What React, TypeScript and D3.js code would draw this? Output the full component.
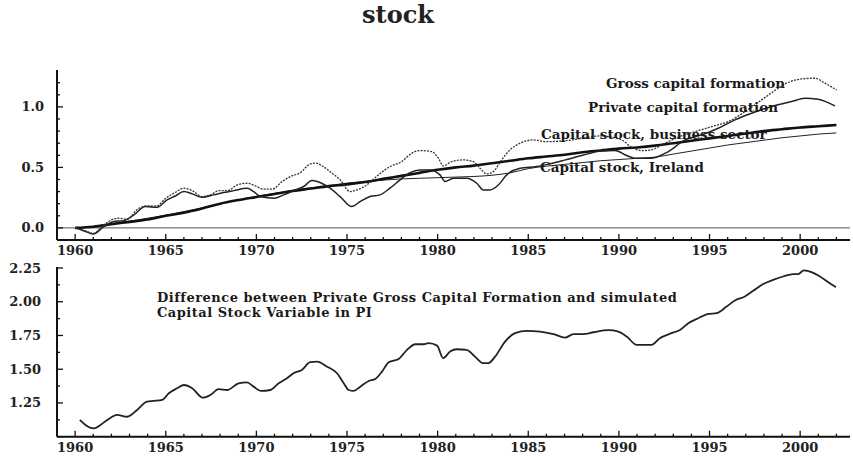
import React from "react";
import * as d3 from "d3";

const xTickYears = [1960, 1965, 1970, 1975, 1980, 1985, 1990, 1995, 2000];
const topTickLabels = [0.0, 0.5, 1.0];
const bottomTickLabels = [1.25, 1.5, 1.75, 2.0, 2.25];

const grossCapitalFormation: [number, number][] = [
  [1960.0, 0], [1960.5, -0.02], [1961.0, -0.045], [1961.6, 0.025], [1962.0, 0.066], [1962.4, 0.08],
  [1962.9, 0.072], [1963.4, 0.149], [1964.0, 0.182], [1964.5, 0.182], [1965.0, 0.245], [1965.45, 0.287],
  [1966.0, 0.328], [1966.46, 0.308], [1967.0, 0.259], [1967.47, 0.273], [1967.93, 0.308], [1968.4, 0.308],
  [1968.94, 0.355], [1969.5, 0.369], [1969.95, 0.347], [1970.4, 0.32], [1970.87, 0.32], [1971.42, 0.383],
  [1971.88, 0.424], [1972.43, 0.457], [1972.98, 0.529], [1973.3, 0.535], [1973.6, 0.515], [1974.06, 0.465],
  [1974.62, 0.397], [1975.17, 0.3], [1975.54, 0.314], [1976.09, 0.355], [1976.73, 0.438], [1977.38, 0.507],
  [1978.02, 0.548], [1978.57, 0.617], [1979.03, 0.639], [1979.67, 0.631], [1980.04, 0.576], [1980.31, 0.512],
  [1980.77, 0.548], [1981.42, 0.562], [1981.97, 0.548], [1982.34, 0.493], [1982.71, 0.446], [1983.07, 0.465],
  [1983.53, 0.562], [1983.99, 0.645], [1984.55, 0.7], [1985.28, 0.727], [1986.02, 0.713], [1987.0, 0.72],
  [1988.0, 0.74], [1989.0, 0.76], [1989.6, 0.75], [1990.16, 0.727], [1990.7, 0.667], [1991.26, 0.639],
  [1991.8, 0.645], [1992.36, 0.686], [1993.28, 0.75], [1994.2, 0.796], [1995.12, 0.837], [1996.04, 0.879],
  [1996.96, 0.961], [1997.88, 1.058], [1998.6, 1.135], [1999.25, 1.196], [2000.08, 1.231], [2000.82, 1.237],
  [2001.37, 1.196], [2002.01, 1.14],
];

const privateCapitalFormation: [number, number][] = [
  [1960.0, 0], [1960.5, -0.025], [1961.0, -0.05], [1961.58, 0.011], [1962.13, 0.052], [1962.68, 0.06],
  [1963.24, 0.107], [1963.88, 0.176], [1964.52, 0.17], [1965.07, 0.231], [1965.53, 0.264], [1966.0, 0.3],
  [1966.46, 0.281], [1967.0, 0.253], [1967.65, 0.273], [1968.2, 0.292], [1968.75, 0.308], [1969.49, 0.328],
  [1969.85, 0.3], [1970.22, 0.259], [1970.96, 0.245], [1971.51, 0.273], [1972.06, 0.308], [1972.61, 0.342],
  [1973.07, 0.391], [1973.35, 0.383], [1973.6, 0.369], [1974.06, 0.328], [1974.62, 0.259], [1975.26, 0.176],
  [1975.72, 0.217], [1976.27, 0.259], [1976.82, 0.273], [1977.37, 0.328], [1977.93, 0.397], [1978.48, 0.457],
  [1979.03, 0.479], [1979.58, 0.479], [1980.13, 0.438], [1980.41, 0.383], [1980.87, 0.41], [1981.6, 0.41],
  [1982.16, 0.369], [1982.52, 0.314], [1982.89, 0.314], [1983.35, 0.355], [1983.81, 0.438], [1984.55, 0.493],
  [1985.47, 0.507], [1986.2, 0.53], [1987.0, 0.56], [1988.0, 0.6], [1989.0, 0.635], [1989.8, 0.64],
  [1990.4, 0.6], [1990.9, 0.576], [1991.8, 0.576], [1992.73, 0.631], [1993.65, 0.727], [1994.57, 0.769],
  [1995.48, 0.824], [1996.4, 0.893], [1997.32, 0.948], [1998.43, 1.003], [1999.53, 1.044], [2000.26, 1.072],
  [2000.99, 1.063], [2001.92, 1.008],
];

const capitalStockBusiness: [number, number][] = [
  [1960, 0], [1961, 0.01], [1962, 0.03], [1963, 0.05], [1964, 0.07], [1965, 0.1], [1966, 0.125],
  [1967, 0.16], [1968, 0.2], [1969, 0.23], [1970, 0.255], [1971, 0.28], [1972, 0.305], [1973, 0.325],
  [1974, 0.345], [1975, 0.36], [1976, 0.38], [1977, 0.405], [1978, 0.43], [1979, 0.455], [1980, 0.48],
  [1981, 0.5], [1982, 0.515], [1983, 0.535], [1984, 0.555], [1985, 0.575], [1986, 0.59], [1987, 0.605],
  [1988, 0.625], [1989, 0.64], [1990, 0.655], [1991, 0.665], [1992, 0.68], [1993, 0.7], [1994, 0.72],
  [1995, 0.74], [1996, 0.76], [1997, 0.78], [1998, 0.8], [1999, 0.815], [2000, 0.83], [2001, 0.84], [2002, 0.85],
];

const capitalStockIreland: [number, number][] = [
  [1960, 0], [1961, 0.01], [1962, 0.035], [1963, 0.055], [1964, 0.08], [1965, 0.105], [1966, 0.135],
  [1967, 0.165], [1968, 0.2], [1969, 0.23], [1970, 0.26], [1971, 0.285], [1972, 0.31], [1973, 0.33],
  [1974, 0.35], [1975, 0.37], [1976, 0.385], [1977, 0.395], [1978, 0.405], [1979, 0.41], [1980, 0.415],
  [1981, 0.42], [1982, 0.425], [1983, 0.435], [1984, 0.455], [1985, 0.49], [1986, 0.51], [1987, 0.525],
  [1988, 0.54], [1989, 0.555], [1990, 0.565], [1991, 0.575], [1992, 0.585], [1993, 0.61], [1994, 0.635],
  [1995, 0.66], [1996, 0.685], [1997, 0.705], [1998, 0.725], [1999, 0.745], [2000, 0.76], [2001, 0.775], [2002, 0.785],
];

const differenceSeries: [number, number][] = [
  [1960.26, 1.124], [1960.57, 1.087], [1961.03, 1.062], [1961.4, 1.087], [1961.77, 1.124], [1962.32, 1.161],
  [1962.87, 1.148], [1963.42, 1.198], [1963.97, 1.26], [1964.34, 1.265], [1964.8, 1.272], [1965.17, 1.322],
  [1965.63, 1.359], [1966.0, 1.383], [1966.46, 1.359], [1967.04, 1.289], [1967.46, 1.309], [1967.92, 1.352],
  [1968.38, 1.346], [1969.02, 1.396], [1969.48, 1.403], [1969.85, 1.371], [1970.25, 1.339], [1970.77, 1.346],
  [1971.23, 1.396], [1971.69, 1.433], [1972.05, 1.47], [1972.51, 1.495], [1972.97, 1.552], [1973.34, 1.556],
  [1973.9, 1.519], [1974.45, 1.47], [1974.82, 1.396], [1975.09, 1.346], [1975.37, 1.339], [1975.73, 1.371],
  [1976.2, 1.413], [1976.56, 1.428], [1976.93, 1.482], [1977.3, 1.552], [1977.85, 1.576], [1978.31, 1.643],
  [1978.77, 1.685], [1979.23, 1.685], [1979.51, 1.693], [1979.97, 1.675], [1980.3, 1.582], [1980.69, 1.631],
  [1981.05, 1.648], [1981.6, 1.643], [1982.06, 1.593], [1982.52, 1.545], [1982.8, 1.545], [1983.17, 1.593],
  [1983.72, 1.705], [1984.27, 1.767], [1984.92, 1.784], [1985.65, 1.779], [1986.39, 1.76], [1987.03, 1.734],
  [1987.49, 1.76], [1988.04, 1.76], [1988.6, 1.774], [1989.42, 1.789], [1989.97, 1.779], [1990.43, 1.742],
  [1990.99, 1.68], [1991.8, 1.68], [1992.26, 1.73], [1992.9, 1.767], [1993.37, 1.79], [1993.83, 1.841],
  [1994.38, 1.878], [1994.93, 1.91], [1995.39, 1.915], [1995.94, 1.964], [1996.4, 2.009], [1996.95, 2.039],
  [1997.41, 2.081], [1997.96, 2.131], [1998.51, 2.162], [1999.06, 2.187], [1999.61, 2.205], [1999.89, 2.205],
  [2000.2, 2.232], [2000.63, 2.22], [2001.09, 2.187], [2001.55, 2.145], [2001.97, 2.108],
];

const seriesLabels = [
  "Gross capital formation",
  "Private capital formation",
  "Capital stock, business sector",
  "Capital stock, Ireland",
];
const annotationLines = [
  "Difference between Private Gross Capital Formation and simulated",
  "Capital Stock Variable in PI",
];

const FONT = "'DejaVu Serif', 'Liberation Serif', serif";

export default function App() {
  const x = d3.scaleLinear().domain([1959, 2002.75]).range([57, 850]);
  const yTop = d3.scaleLinear().domain([-0.1, 1.3]).range([240, 70.6]);
  const yBot = d3.scaleLinear().domain([1.0, 2.25]).range([436.7, 268]);

  const lineTop = d3
    .line<[number, number]>()
    .x((d) => x(d[0]))
    .y((d) => yTop(d[1]))
    .curve(d3.curveMonotoneX);
  const lineBot = d3
    .line<[number, number]>()
    .x((d) => x(d[0]))
    .y((d) => yBot(d[1]))
    .curve(d3.curveMonotoneX);

  const years = d3.range(1960, 2003);
  const topMinor = d3.range(-1, 13).map((i) => i / 10);
  const botMinor = d3.range(0, 11).map((i) => 1 + i * 0.125);

  const xAxis = (yAxis: number, labelY: number, key: string) => (
    <g key={key}>
      <line x1={57} x2={850} y1={yAxis} y2={yAxis} stroke="#111" strokeWidth={2} />
      {years.map((yr) => (
        <line
          key={yr}
          x1={x(yr)}
          x2={x(yr)}
          y1={yAxis}
          y2={yAxis - (yr % 5 === 0 ? 6 : 3)}
          stroke="#111"
          strokeWidth={1.3}
        />
      ))}
      {xTickYears.map((yr) => (
        <text
          key={yr}
          x={x(yr)}
          y={labelY}
          textAnchor="middle"
          fontFamily={FONT}
          fontWeight="bold"
          fontSize={13}
          fill="#222"
        >
          {yr}
        </text>
      ))}
    </g>
  );

  const labelStyle = { fontFamily: FONT, fontWeight: "bold" as const, fontSize: 13.5, fill: "#1a1a1a" };
  const annStyle = { fontFamily: FONT, fontWeight: "bold" as const, fontSize: 13, fill: "#1a1a1a", letterSpacing: 0.5 };

  return (
    <svg
      width={853}
      height={457}
      style={{ position: "absolute", left: 0, top: 0, background: "#fff" }}
    >
      <rect x={0} y={0} width={853} height={457} fill="#fff" />
      <text x={398} y={23} textAnchor="middle" fontFamily={FONT} fontWeight="bold" fontSize={24} fill="#222">
        stock
      </text>

      {/* top panel */}
      <line x1={57} x2={850} y1={yTop(0)} y2={yTop(0)} stroke="#555" strokeWidth={1} />
      <line x1={57} x2={57} y1={70} y2={240} stroke="#111" strokeWidth={2} />
      {topMinor.map((v) => {
        const major = Math.abs(v * 2 - Math.round(v * 2)) < 1e-6;
        return (
          <line key={v} x1={57} x2={57 + (major ? 6 : 3)} y1={yTop(v)} y2={yTop(v)} stroke="#111" strokeWidth={1.3} />
        );
      })}
      {topTickLabels.map((v) => (
        <text key={v} x={44} y={yTop(v) + 4.5} textAnchor="end" fontFamily={FONT} fontWeight="bold" fontSize={13} fill="#222">
          {v.toFixed(1)}
        </text>
      ))}
      {xAxis(240, 255, "topx")}

      <path d={lineTop(capitalStockIreland) || ""} fill="none" stroke="#222" strokeWidth={1} />
      <path d={lineTop(capitalStockBusiness) || ""} fill="none" stroke="#111" strokeWidth={2.6} />
      <path d={lineTop(privateCapitalFormation) || ""} fill="none" stroke="#222" strokeWidth={1.5} />
      <path
        d={lineTop(grossCapitalFormation) || ""}
        fill="none"
        stroke="#333"
        strokeWidth={1.3}
        strokeDasharray="2,1.2"
      />

      <text x={606} y={88} {...labelStyle}>{seriesLabels[0]}</text>
      <text x={588} y={112} {...labelStyle}>{seriesLabels[1]}</text>
      <text x={541} y={139} {...labelStyle}>{seriesLabels[2]}</text>
      <text x={540} y={172} {...labelStyle}>{seriesLabels[3]}</text>

      {/* bottom panel */}
      <line x1={57} x2={57} y1={267} y2={436.7} stroke="#111" strokeWidth={2} />
      {botMinor.map((v, i) => (
        <line key={v} x1={57} x2={57 + (i % 2 === 0 ? 6 : 3)} y1={yBot(v)} y2={yBot(v)} stroke="#111" strokeWidth={1.3} />
      ))}
      {bottomTickLabels.map((v) => (
        <text key={v} x={41} y={yBot(v) + 4.5} textAnchor="end" fontFamily={FONT} fontWeight="bold" fontSize={13} fill="#222">
          {v.toFixed(2)}
        </text>
      ))}
      {xAxis(436.7, 452, "botx")}

      <path d={lineBot(differenceSeries) || ""} fill="none" stroke="#222" strokeWidth={1.8} />

      <text x={157} y={302} {...annStyle}>{annotationLines[0]}</text>
      <text x={157} y={317} {...annStyle}>{annotationLines[1]}</text>
    </svg>
  );
}
